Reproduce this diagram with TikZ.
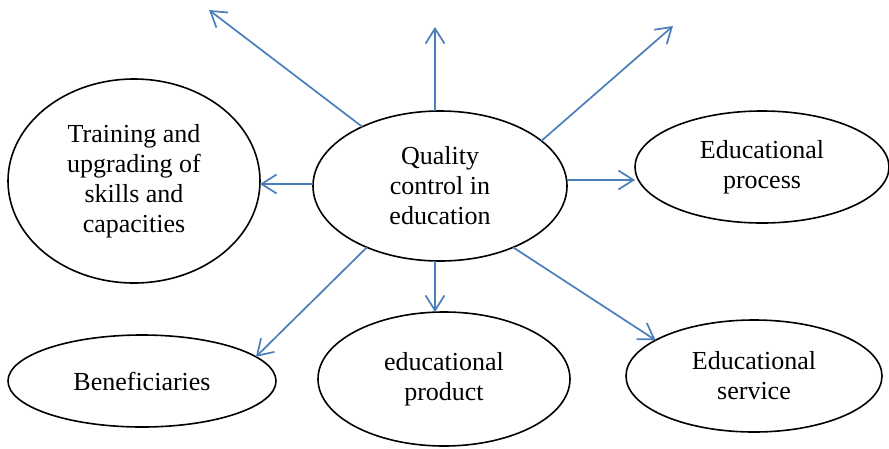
\documentclass[tikz,border=0pt]{standalone}
\usepackage{fontspec}
\setmainfont{Liberation Serif}
\usetikzlibrary{shapes.geometric,arrows.meta}
\definecolor{linkblue}{HTML}{4A7EBB}
\begin{document}
\begin{tikzpicture}[x=1pt,y=-1pt,
  bubble/.style={ellipse,draw=black,line width=1.6pt,inner sep=0pt,outer sep=0pt,
    align=center,font=\fontsize{26}{30}\selectfont},
  link/.style={draw=linkblue,line width=1.7pt,
    -{Straight Barb[length=15pt,width=19pt,line width=1.7pt]}}]
\useasboundingbox (0,0) rectangle (889,448);

% central topic and the surrounding aspects
\node[bubble,minimum width=254pt,minimum height=150pt] (c) at (440,186)
  {Quality\\control in\\education};
\node[bubble,minimum width=252pt,minimum height=204pt] (l) at (134,181)
  {Training and\\upgrading of\\skills and\\capacities};
\node[bubble,minimum width=254pt,minimum height=112pt] (r) at (762,167)
  {Educational\\process};
\node[bubble,minimum width=268pt,minimum height=92pt] (b) at (142,381)
  {Beneficiaries};
\node[bubble,minimum width=252pt,minimum height=134pt] (p) at (444,379)
  {educational\\product};
\node[bubble,minimum width=256pt,minimum height=112pt] (s) at (754,376)
  {Educational\\service};

% free arrow ends and guide lines for the straight arrows
\coordinate (t1) at (209,10);
\coordinate (t2) at (435,27);
\coordinate (t3) at (673,26);
\coordinate (vx) at (435,0);
\coordinate (hl) at (0,184);
\coordinate (hr) at (0,180);

\draw[link] (c) -- (t1);
\draw[link] (c.north -| vx) -- (t2);
\draw[link] (c.24) -- (t3);
\draw[link] (c.west |- hl) -- (l.east |- hl);
\draw[link] (c.east |- hr) -- (r.west |- hr);
\draw[link] (c.220) -- (b.12);
\draw[link] (c.south -| vx) -- (p.north -| vx);
\draw[link] (c.320) -- (s.160);
\end{tikzpicture}
\end{document}
